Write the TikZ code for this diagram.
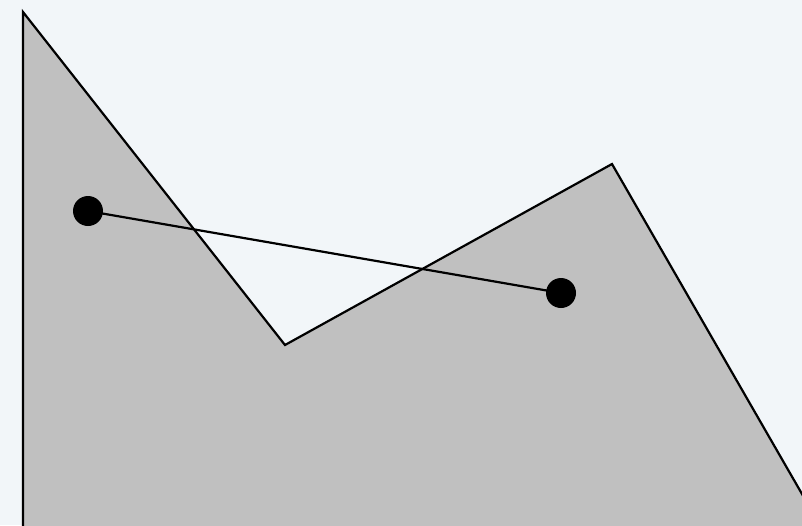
\documentclass[tikz,border=0pt]{standalone}
\definecolor{bg}{HTML}{F2F6F9}
\definecolor{fillgray}{HTML}{C0C0C0}
\tikzset{
  dot/.style={circle,fill=black,inner sep=0pt,minimum size=30pt},
  edge/.style={draw=black,line width=2.2pt,line join=miter},
  link/.style={draw=black,line width=2.2pt}
}
\begin{document}
\begin{tikzpicture}[x=1pt,y=-1pt]
\useasboundingbox (0,0) rectangle (802,525);
\fill[bg] (0,0) rectangle (802,525);
\begin{scope}
\clip (0,0) rectangle (802,525);
\path[edge,fill=fillgray] (23,12) -- (285,345) -- (612,164) -- (840,560) -- (23,560) -- cycle;
\end{scope}
\node[dot] (p) at (88,211) {};
\node[dot] (q) at (561,293) {};
\draw[link] (p.center) -- (q.center);
\end{tikzpicture}
\end{document}
